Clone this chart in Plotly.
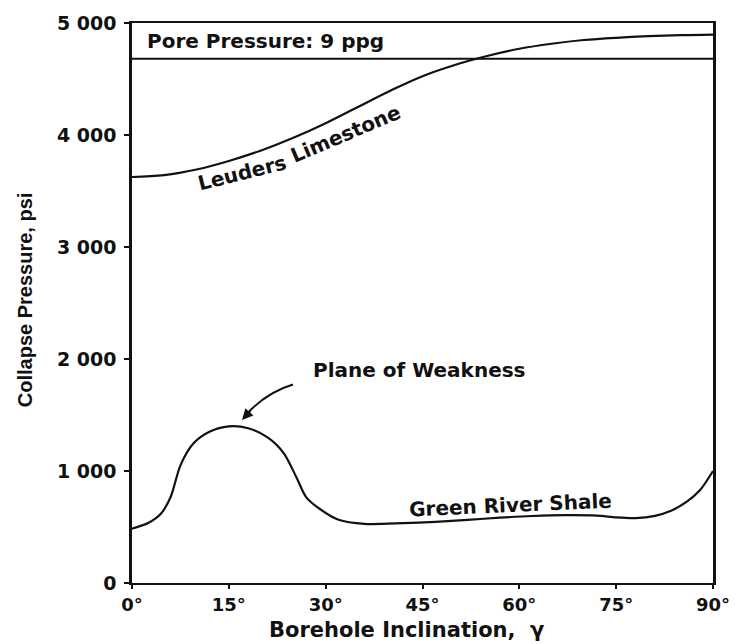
import plotly.graph_objects as go

# Borehole inclination (degrees) and collapse pressure (psi)
leuders_incl = [0, 5, 10, 15, 20, 25, 30, 35, 40, 45, 50, 55, 60, 65, 70, 75, 80, 85, 90]
leuders_psi = [3625, 3642, 3692, 3768, 3862, 3975, 4105, 4250, 4395, 4525, 4625, 4705,
               4770, 4815, 4848, 4868, 4882, 4891, 4896]

shale_incl = [0, 2.5, 4.5, 6, 7.5, 9.5, 12, 15, 18, 21, 23.5, 25.5, 27, 29, 32, 36, 42,
              47, 52, 57, 62, 67, 72, 75, 78, 81, 83.5, 86, 88, 90]
shale_psi = [485, 535, 620, 770, 1050, 1245, 1350, 1398, 1382, 1300, 1160, 940, 765, 665,
             565, 528, 534, 546, 564, 583, 598, 606, 602, 586, 580, 600, 645, 728, 830, 1000]

pore_pressure_psi = 4680
pore_label = "Pore Pressure: 9 ppg"

x_ticks = [0, 15, 30, 45, 60, 75, 90]
x_ticktext = ["0°", "15°", "30°", "45°", "60°", "75°", "90°"]
y_ticks = [0, 1000, 2000, 3000, 4000, 5000]
y_ticktext = ["0", "1 000", "2 000", "3 000", "4 000", "5 000"]

BLACK = "#111111"
FONT = dict(family="DejaVu Sans", size=20, color=BLACK, weight="bold")

fig = go.Figure()

fig.add_trace(go.Scatter(
    x=[x_ticks[0], x_ticks[-1]], y=[pore_pressure_psi, pore_pressure_psi],
    mode="lines", line=dict(color=BLACK, width=2), hoverinfo="skip"))
fig.add_trace(go.Scatter(
    x=leuders_incl, y=leuders_psi, mode="lines",
    line=dict(color=BLACK, width=2.2, shape="spline", smoothing=1.0), name="Leuders Limestone"))
fig.add_trace(go.Scatter(
    x=shale_incl, y=shale_psi, mode="lines",
    line=dict(color=BLACK, width=2.2, shape="spline", smoothing=0.8), name="Green River Shale"))

annotations = [
    dict(x=2.0, y=4840, xref="x", yref="y", text=pore_label, showarrow=False,
         xanchor="left", yanchor="middle", font=FONT),
    dict(x=17.0, y=3662, xref="x", yref="y", text="Leuders", showarrow=False,
         textangle=-14, font=FONT),
    dict(x=33.0, y=4012, xref="x", yref="y", text="Limestone", showarrow=False,
         textangle=-23, font=FONT),
    dict(x=58.6, y=700, xref="x", yref="y", text="Green River Shale", showarrow=False,
         textangle=-2.5, font=FONT),
    dict(x=44.5, y=1900, xref="x", yref="y", text="Plane of Weakness", showarrow=False,
         font=FONT),
    # arrowhead at the end of the curved pointer
    dict(x=17.04, y=1455, xref="x", yref="y", text="", showarrow=True,
         ax=10, ay=-11, arrowhead=2, arrowsize=1.1, arrowwidth=2, arrowcolor=BLACK),
    # axis titles
    dict(x=(406 - 132) / 581, y=-0.084, xref="paper", yref="paper",
         text="Borehole Inclination,  γ", showarrow=False, xanchor="center", yanchor="middle",
         font=dict(family="DejaVu Sans", size=21, color=BLACK, weight="bold")),
    dict(x=(25 - 132) / 581, y=0.505, xref="paper", yref="paper",
         text="Collapse Pressure, psi", showarrow=False, textangle=-90,
         xanchor="center", yanchor="middle",
         font=dict(family="Liberation Sans", size=20, color=BLACK, weight="bold")),
]

# curved pointer from the label to the shale peak
shapes = [
    dict(type="path", xref="x", yref="y",
         path="M 24.94,1772 Q 20.84,1702 17.6,1500",
         line=dict(color=BLACK, width=2)),
]

fig.update_layout(
    width=742, height=644, autosize=False,
    margin=dict(l=132, r=29, t=16, b=61),
    paper_bgcolor="white", plot_bgcolor="white",
    showlegend=False,
    annotations=annotations, shapes=shapes,
    font=FONT,
)
fig.update_xaxes(
    range=[0, 90], tickvals=x_ticks, ticktext=x_ticktext,
    showline=True, linecolor=BLACK, linewidth=2, mirror=True,
    ticks="outside", ticklen=4, tickwidth=1.5, tickcolor=BLACK,
    showgrid=False, zeroline=False, ticklabelstandoff=0,
    tickfont=dict(family="DejaVu Sans", size=18, color=BLACK, weight="bold"),
)
fig.update_yaxes(
    range=[0, 5000], tickvals=y_ticks, ticktext=y_ticktext,
    showline=True, linecolor=BLACK, linewidth=2.5, mirror=True,
    ticks="outside", ticklen=5, tickwidth=1.5, tickcolor=BLACK,
    showgrid=False, zeroline=False, ticklabelstandoff=4,
    tickfont=dict(family="DejaVu Sans", size=19, color=BLACK, weight="bold"),
)

fig.write_html("out.html")
